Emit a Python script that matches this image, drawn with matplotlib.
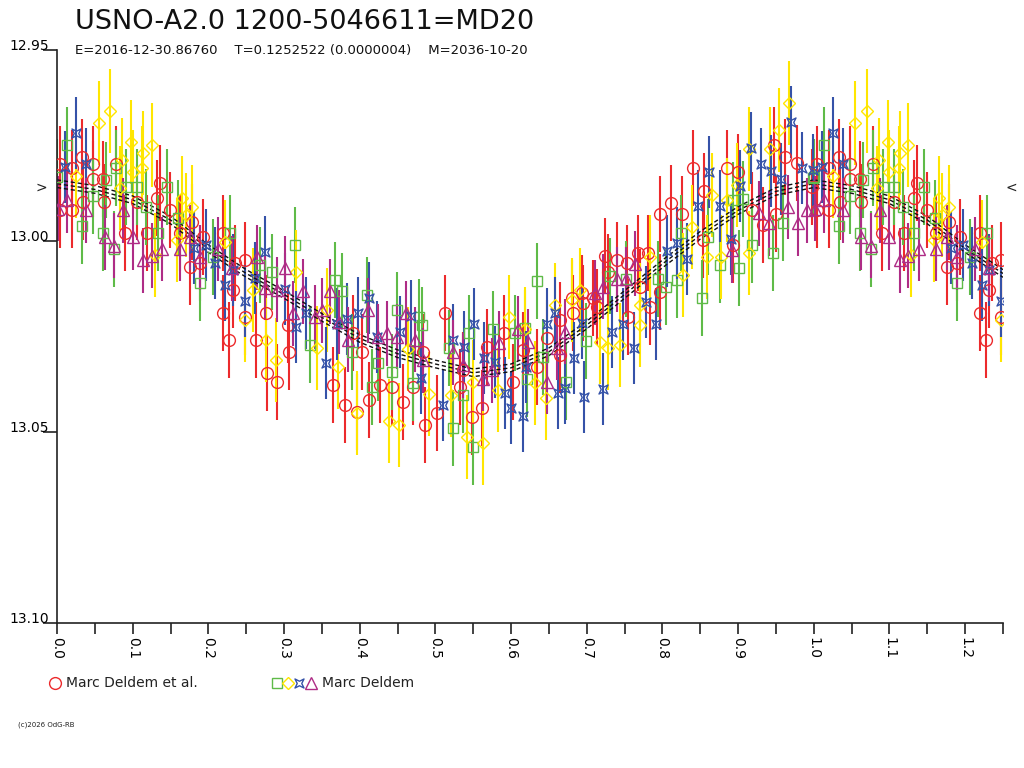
import numpy as np
import matplotlib
matplotlib.use("Agg")
import matplotlib.pyplot as plt
from matplotlib.path import Path
from matplotlib.lines import Line2D

# --- light curve data: phase and magnitude ---
red_phase = [0.004, 0.004, 0.020, 0.020, 0.033, 0.034, 0.048, 0.048, 0.061, 0.062,
             0.078, 0.090, 0.106, 0.119, 0.132, 0.136, 0.149, 0.162, 0.176, 0.178,
             0.189, 0.193, 0.219, 0.219, 0.227, 0.232, 0.235, 0.248, 0.248,
             0.263, 0.276, 0.277, 0.291, 0.305, 0.306, 0.365, 0.380, 0.391, 0.396,
             0.403, 0.412, 0.427, 0.443, 0.457, 0.470, 0.483, 0.486, 0.502, 0.513,
             0.532, 0.536, 0.548, 0.561, 0.568, 0.590, 0.602, 0.616, 0.634, 0.647,
             0.664, 0.664, 0.680, 0.682, 0.694, 0.695, 0.708, 0.713, 0.724, 0.728,
             0.740, 0.753, 0.754, 0.768, 0.770, 0.781, 0.783, 0.797,
             0.797, 0.811, 0.826, 0.840, 0.853, 0.855, 0.885, 0.893, 0.900, 0.918,
             0.933, 0.947, 0.950, 0.962, 0.978, 0.997]
red_mag = [12.9798, 12.9919, 12.9809, 12.9919, 12.9780, 12.9898, 12.9798, 12.9838, 12.9838, 12.9898,
           12.9798, 12.9979, 12.9898, 12.9979, 12.9887, 12.9848, 12.9919, 12.9979, 13.0068, 12.9950,
           13.0058, 12.9990, 12.9979, 13.0189, 13.0259, 13.0128, 13.0058, 13.0050, 13.0199,
           13.0259, 13.0189, 13.0346, 13.0369, 13.0220, 13.0291, 13.0377, 13.0429, 13.0241, 13.0448,
           13.0291, 13.0416, 13.0377, 13.0382, 13.0422, 13.0382, 13.0291, 13.0482, 13.0450, 13.0189,
           13.0382, 13.0338, 13.0461, 13.0437, 13.0278, 13.0241, 13.0369, 13.0285, 13.0330, 13.0254,
           13.0299, 13.0207, 13.0149, 13.0189, 13.0136, 13.0162, 13.0149, 13.0173, 13.0039, 13.0081,
           13.0050, 13.0058, 13.0199, 13.0032, 13.0120, 13.0032, 13.0173, 13.0134,
           12.9929, 12.9901, 12.9929, 12.9809, 12.9997, 12.9869, 12.9809, 13.0011, 12.9819, 12.9919,
           12.9958, 12.9749, 12.9929, 12.9780, 12.9796, 12.9859]

green_phase = [0.000, 0.013, 0.033, 0.048, 0.061, 0.065, 0.075, 0.078, 0.091, 0.106,
               0.118, 0.133, 0.145, 0.160, 0.189, 0.206, 0.229, 0.268, 0.284, 0.314,
               0.334, 0.367, 0.376, 0.390, 0.410, 0.416, 0.424, 0.443, 0.449, 0.470,
               0.478, 0.482, 0.518, 0.523, 0.536, 0.544, 0.550, 0.576, 0.605, 0.618,
               0.621, 0.634, 0.642, 0.672, 0.699, 0.731, 0.752, 0.794, 0.805, 0.819,
               0.824, 0.852, 0.860, 0.876, 0.893, 0.901, 0.906, 0.918, 0.946, 0.959,
               0.999]
green_mag = [12.9832, 12.9749, 12.9961, 12.9882, 12.9979, 12.9840, 13.0021, 12.9809, 12.9859, 12.9859,
             12.9911, 12.9979, 12.9859, 12.9940, 13.0110, 13.0042, 12.9979, 13.0063, 13.0081, 13.0011,
             13.0272, 13.0102, 13.0131, 13.0291, 13.0141, 13.0382, 13.0319, 13.0343, 13.0181, 13.0372,
             13.0199, 13.0220, 13.0280, 13.0490, 13.0403, 13.0241, 13.0539, 13.0230, 13.0241, 13.0228,
             13.0361, 13.0105, 13.0304, 13.0369, 13.0262, 13.0092, 13.0100, 13.0100, 13.0120, 13.0102,
             12.9979, 13.0149, 12.9990, 13.0063, 12.9893, 13.0071, 12.9890, 13.0011, 13.0031, 12.9953,
             12.9835]

yellow_phase = [0.025, 0.055, 0.070, 0.083, 0.086, 0.098, 0.100, 0.112, 0.114, 0.125,
                0.129, 0.159, 0.165, 0.170, 0.178, 0.222, 0.248, 0.259, 0.276, 0.290,
                0.316, 0.343, 0.357, 0.371, 0.396, 0.439, 0.452, 0.464, 0.491, 0.520,
                0.542, 0.550, 0.563, 0.583, 0.597, 0.618, 0.631, 0.646, 0.658, 0.680,
                0.691, 0.717, 0.728, 0.744, 0.770, 0.770, 0.783, 0.827, 0.839, 0.859,
                0.865, 0.878, 0.885, 0.898, 0.914, 0.914, 0.942, 0.954, 0.967]
yellow_mag = [12.9830, 12.9691, 12.9660, 12.9861, 12.9788, 12.9741, 12.9819, 12.9809, 12.9770, 12.9749,
              13.0037, 12.9997, 12.9887, 12.9932, 12.9911, 13.0003, 13.0207, 13.0128, 13.0259, 13.0312,
              13.0081, 13.0280, 13.0181, 13.0330, 13.0450, 13.0471, 13.0482, 13.0283, 13.0401, 13.0403,
              13.0513, 13.0369, 13.0529, 13.0390, 13.0199, 13.0230, 13.0372, 13.0411, 13.0168, 13.0154,
              13.0128, 13.0264, 13.0280, 13.0272, 13.0168, 13.0220, 13.0042, 13.0089, 12.9963, 13.0042,
              12.9880, 13.0042, 12.9893, 12.9853, 13.0031, 12.9759, 12.9759, 12.9709, 12.9639]

blue_phase = [0.011, 0.025, 0.038, 0.181, 0.197, 0.209, 0.222, 0.232, 0.248, 0.262,
              0.275, 0.301, 0.316, 0.329, 0.355, 0.370, 0.383, 0.398, 0.412, 0.423,
              0.453, 0.468, 0.481, 0.510, 0.523, 0.538, 0.551, 0.564, 0.579, 0.592,
              0.600, 0.616, 0.620, 0.647, 0.658, 0.662, 0.671, 0.683, 0.694, 0.697,
              0.721, 0.734, 0.748, 0.762, 0.778, 0.791, 0.806, 0.819, 0.832, 0.847,
              0.861, 0.876, 0.890, 0.902, 0.917, 0.930, 0.943, 0.956, 0.970, 0.984,
              0.999]
blue_mag = [12.9806, 12.9717, 12.9798, 13.0018, 13.0011, 13.0058, 13.0115, 13.0076, 13.0157, 13.0097,
            13.0029, 13.0126, 13.0225, 13.0189, 13.0319, 13.0217, 13.0204, 13.0189, 13.0149, 13.0251,
            13.0238, 13.0196, 13.0359, 13.0429, 13.0259, 13.0278, 13.0217, 13.0306, 13.0317, 13.0398,
            13.0437, 13.0458, 13.0330, 13.0217, 13.0189, 13.0398, 13.0385, 13.0306, 13.0215, 13.0408,
            13.0387, 13.0238, 13.0217, 13.0280, 13.0160, 13.0217, 13.0026, 13.0005, 13.0047, 12.9908,
            12.9819, 12.9908, 12.9995, 12.9856, 12.9757, 12.9798, 12.9817, 12.9838, 12.9689, 12.9809,
            12.9814]

purple_phase = [0.001, 0.013, 0.038, 0.063, 0.075, 0.087, 0.100, 0.114, 0.125, 0.139,
                0.162, 0.176, 0.189, 0.213, 0.231, 0.264, 0.275, 0.291, 0.301, 0.312,
                0.325, 0.341, 0.350, 0.361, 0.373, 0.384, 0.411, 0.424, 0.436, 0.449,
                0.461, 0.473, 0.483, 0.523, 0.536, 0.563, 0.575, 0.584, 0.609, 0.622,
                0.647, 0.661, 0.671, 0.711, 0.721, 0.740, 0.752, 0.764, 0.892, 0.927,
                0.941, 0.966, 0.979, 0.991]
purple_mag = [12.9916, 12.9893, 12.9919, 12.9990, 13.0013, 12.9919, 12.9990, 13.0050, 13.0039, 13.0021,
              13.0021, 12.9990, 13.0042, 13.0021, 13.0071, 13.0042, 13.0123, 13.0128, 13.0071, 13.0189,
              13.0131, 13.0199, 13.0181, 13.0131, 13.0212, 13.0259, 13.0181, 13.0251, 13.0241, 13.0251,
              13.0189, 13.0259, 13.0312, 13.0291, 13.0325, 13.0361, 13.0338, 13.0267, 13.0230, 13.0264,
              13.0369, 13.0280, 13.0238, 13.0136, 13.0120, 13.0100, 13.0100, 13.0060, 13.0024, 12.9927,
              12.9953, 12.9911, 12.9953, 12.9919]

# typical error bar half-lengths per observer set (mag)
red_err = 0.010
green_err = 0.010
yellow_err = 0.011
blue_err = 0.0095
purple_err = 0.0085

# fitted light curve (read every 0.05 in phase) and its envelope
curve_phase = [0.00, 0.05, 0.10, 0.15, 0.20, 0.25, 0.30, 0.35, 0.40, 0.45, 0.50,
               0.55, 0.60, 0.65, 0.70, 0.75, 0.80, 0.85, 0.90, 0.95, 1.00]
curve_mag = [12.9850, 12.9865, 12.9892, 12.9945, 13.0020, 13.0085, 13.0140, 13.0200, 13.0255, 13.0295, 13.0322,
             13.0345, 13.0332, 13.0290, 13.0220, 13.0140, 13.0060, 12.9985, 12.9920, 12.9870, 12.9850]
curve_band = 0.001
max_mag = 12.986

title = "USNO-A2.0 1200-5046611=MD20"
subtitle = "E=2016-12-30.86760    T=0.1252522 (0.0000004)    M=2036-10-20"
label_1 = "Marc Deldem et al."
label_2 = "Marc Deldem"

RED = "#ec2a2c"
GREEN = "#5fbb48"
YELLOW = "#ffe600"
BLUE = "#3552a8"
PURPLE = "#ae2c86"

# a square with pinched sides, like the blue symbol of the original
star_path = Path([(-1, -1), (0, -0.5), (1, -1), (0.5, 0), (1, 1), (0, 0.5),
                  (-1, 1), (-0.5, 0), (-1, -1)],
                 [Path.MOVETO] + [Path.LINETO] * 7 + [Path.CLOSEPOLY])


def fold(phase, mag, extra=0.25):
    """Repeat the first part of the cycle after phase 1.0"""
    phase = np.asarray(phase)
    mag = np.asarray(mag)
    keep = phase <= extra
    return np.concatenate([phase, phase[keep] + 1]), np.concatenate([mag, mag[keep]])


plt.rcParams['font.family'] = ['DejaVu Sans']
fig = plt.figure(figsize=(10.24, 7.68), dpi=100)
ax = fig.add_axes([57 / 1024, 1 - 623 / 768, 946 / 1024, 573 / 768])

series = [
    (red_phase, red_mag, red_err, RED, 'o', 8.5),
    (green_phase, green_mag, green_err, GREEN, 's', 7),
    (yellow_phase, yellow_mag, yellow_err, YELLOW, 'D', 6.5),
    (blue_phase, blue_mag, blue_err, BLUE, star_path, 6.5),
    (purple_phase, purple_mag, purple_err, PURPLE, '^', 8),
]

for i, (ph, mg, err, col, mk, ms) in enumerate(series):
    x, y = fold(ph, mg)
    ax.errorbar(x, y, yerr=err, fmt='none', ecolor=col, elinewidth=1.5, capsize=0, zorder=2)
    ax.plot(x, y, linestyle='none', marker=mk, ms=ms, mfc='none', mec=col, mew=1.0, zorder=3)
    if i == 1:
        # the fitted curve sits between the observer sets
        cx, cy = fold(curve_phase, curve_mag, extra=0.25)
        order = np.argsort(cx)
        cx, cy = cx[order], cy[order]
        for off in (-curve_band, 0, curve_band):
            ax.plot(cx, cy + off, color='#111111', lw=1.0, linestyle=(0, (3, 2)), zorder=2.5)

ax.set_xlim(0, 1.25)
ax.set_ylim(13.10, 12.95)

ax.spines['top'].set_visible(False)
ax.spines['right'].set_visible(False)
ax.spines['left'].set_linewidth(1.2)
ax.spines['bottom'].set_linewidth(1.2)
ax.spines['left'].set_color('#222222')
ax.spines['bottom'].set_color('#222222')

ax.set_xticks(np.arange(0, 1.21, 0.1))
ax.set_xticks(np.arange(0.05, 1.26, 0.1), minor=True)
ax.set_xticklabels([f"{v:.1f}" for v in np.arange(0, 1.21, 0.1)], rotation=270, fontsize=10)
ax.tick_params(axis='x', which='both', direction='out', length=8, width=1.2, color='#222222', pad=2)

ax.set_yticks([12.95, 13.00, 13.05, 13.10])
ax.set_yticklabels(["12.95", "13.00", "13.05", "13.10"], fontsize=10)
ax.tick_params(axis='y', direction='out', length=10, width=1.2, color='#222222', pad=-4)
for lab in ax.get_yticklabels():
    lab.set_verticalalignment('baseline')

# markers for the maximum brightness level on both sides
ax.text(-0.01, max_mag, ">", ha='right', va='center', fontsize=10, color='#222222',
        transform=ax.get_yaxis_transform(), clip_on=False)
ax.text(1.003, max_mag, "<", ha='left', va='center', fontsize=10, color='#222222',
        transform=ax.get_yaxis_transform(), clip_on=False)

fig.text(75 / 1024, 1 - 29 / 768, title, fontsize=19.5, va='baseline', color='#111111')
fig.text(75 / 1024, 1 - 54 / 768, subtitle, fontsize=9.5, va='baseline', color='#111111')

# legend drawn under the axes
ly = 1 - 683 / 768
fig.add_artist(Line2D([55 / 1024], [ly], marker='o', ms=8.5, mfc='none', mec=RED, mew=1.0, linestyle='none'))
fig.text(66 / 1024, ly, label_1, fontsize=10, va='center', color='#222222')
for xpix, col, mk, ms in [(277, GREEN, 's', 7), (288, YELLOW, 'D', 6.5),
                          (299, BLUE, star_path, 6.5), (311, PURPLE, '^', 8)]:
    fig.add_artist(Line2D([xpix / 1024], [ly], marker=mk, ms=ms, mfc='none', mec=col, mew=1.0,
                          linestyle='none'))
fig.text(322 / 1024, ly, label_2, fontsize=10, va='center', color='#222222')

fig.text(18 / 1024, 1 - 727 / 768, "(c)2026 OdG-RB", fontsize=5, color='#222222')

fig.savefig("out.png", dpi=100)
